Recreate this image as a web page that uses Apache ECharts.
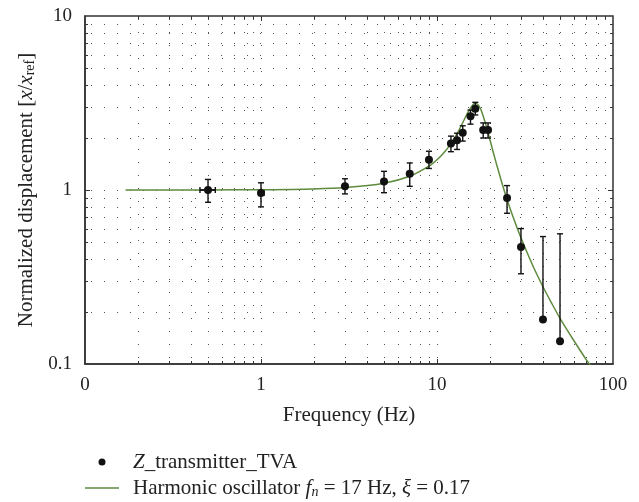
<!DOCTYPE html>
<html>
<head>
<meta charset="utf-8">
<script src="https://cdn.jsdelivr.net/npm/echarts@6/dist/echarts.min.js"></script>
<style>html,body{margin:0;padding:0;background:#fff;}#c{width:639px;height:502px;}</style>
</head>
<body>
<div id="c"></div>
<script>
// measured points (Hz, normalized displacement)
const freq   = [0.5, 1, 3, 5, 7, 9, 12, 13, 14, 15.5, 16.5, 18.3, 19.5, 25, 30, 40, 50];
const values = [1.0, 0.96, 1.05, 1.12, 1.24, 1.49, 1.85, 1.93, 2.13, 2.65, 2.93, 2.21, 2.21, 0.90, 0.47, 0.18, 0.135];
const errHi  = [1.15, 1.10, 1.16, 1.28, 1.43, 1.67, 2.04, 2.12, 2.34, 2.88, 3.19, 2.43, 2.43, 1.06, 0.60, 0.54, 0.56];
const errLo  = [0.85, 0.80, 0.95, 0.965, 1.05, 1.33, 1.66, 1.71, 1.91, 2.39, 2.70, 1.99, 1.99, 0.735, 0.33, 0.18, 0.135];
const xErrLo = [0.45, 0.97, null, null, null, null, null, null, null, null, null, null, null, null, null, null, null];
const xErrHi = [0.55, 1.04, null, null, null, null, null, null, null, null, null, null, null, null, null, null, null];
// fitted harmonic oscillator curve
const curveX = [0.17, 0.5, 1, 2, 3, 5, 7, 9, 10, 11, 12, 13, 14, 15, 16, 16.5, 17, 17.5, 18, 19, 20, 21, 22, 23.5, 25, 27, 30, 35, 40, 45, 50, 60, 70, 80];
const curveY = [1.0, 1.001, 1.004, 1.014, 1.032, 1.094, 1.199, 1.37, 1.491, 1.647, 1.849, 2.109, 2.434, 2.80, 3.09, 3.14, 3.11, 2.98, 2.80, 2.35, 1.94, 1.61, 1.36, 1.08, 0.883, 0.704, 0.531, 0.368, 0.278, 0.222, 0.183, 0.136, 0.107, 0.089];
// grid lines
const gridX = [0.2,0.3,0.4,0.5,0.6,0.7,0.8,0.9,1,2,3,4,5,6,7,8,9,10,20,30,40,50,60,70,80,90];
const gridY = [0.2,0.3,0.4,0.5,0.6,0.7,0.8,0.9,1,2,3,4,5,6,7,8,9];
const majorX = [1, 10];
const majorY = [1];

const FONT = '"Liberation Serif", "DejaVu Serif", serif';
const INK = '#222';
const GREEN = '#5e8b3e';

const chart = echarts.init(document.getElementById('c'), null, {renderer: 'canvas'});

function gridRenderX(params, api) {
  const cs = params.coordSys;
  const v = api.value(0);
  const p = api.coord([v, 1]);
  const x = Math.round(p[0]) + 0.5;
  const tl = majorX.indexOf(v) >= 0 ? 5 : 3;
  const top = cs.y, bot = cs.y + cs.height;
  return {type: 'group', children: [
    {type: 'line', shape: {x1: x, y1: top + 3, x2: x, y2: bot}, style: {stroke: '#555', lineWidth: 1, lineDash: [1, 12]}},
    {type: 'line', shape: {x1: x, y1: bot, x2: x, y2: bot - tl}, style: {stroke: '#333', lineWidth: 1}},
    {type: 'line', shape: {x1: x, y1: top, x2: x, y2: top + tl}, style: {stroke: '#333', lineWidth: 1}}
  ]};
}
function gridRenderY(params, api) {
  const cs = params.coordSys;
  const v = api.value(1);
  const p = api.coord([1, v]);
  const y = Math.round(p[1]) + 0.5;
  const tl = majorY.indexOf(v) >= 0 ? 5 : 3;
  const l = cs.x, r = cs.x + cs.width;
  return {type: 'group', children: [
    {type: 'line', shape: {x1: l + 6, y1: y, x2: r, y2: y}, style: {stroke: '#555', lineWidth: 1, lineDash: [1, 12]}},
    {type: 'line', shape: {x1: l, y1: y, x2: l + tl, y2: y}, style: {stroke: '#333', lineWidth: 1}},
    {type: 'line', shape: {x1: r, y1: y, x2: r - tl, y2: y}, style: {stroke: '#333', lineWidth: 1}}
  ]};
}
function errRender(params, api) {
  const x = api.value(0), lo = api.value(1), hi = api.value(2), xl = api.value(3), xh = api.value(4), y = api.value(5);
  const a = api.coord([x, hi]);
  const b = api.coord([x, lo]);
  const cap = 3;
  const st = {stroke: '#111', lineWidth: 1.4};
  const ch = [
    {type: 'line', shape: {x1: a[0], y1: a[1], x2: b[0], y2: b[1]}, style: st},
    {type: 'line', shape: {x1: a[0] - cap, y1: a[1], x2: a[0] + cap, y2: a[1]}, style: st}
  ];
  if (lo < y) ch.push({type: 'line', shape: {x1: b[0] - cap, y1: b[1], x2: b[0] + cap, y2: b[1]}, style: st});
  if (xl && xh) {
    const c = api.coord([xl, y]), d = api.coord([xh, y]);
    const st2 = {stroke: '#111', lineWidth: 1.8};
    ch.push({type: 'line', shape: {x1: c[0], y1: c[1], x2: d[0], y2: d[1]}, style: st2});
    ch.push({type: 'line', shape: {x1: c[0], y1: c[1] - 3, x2: c[0], y2: c[1] + 3}, style: st});
    ch.push({type: 'line', shape: {x1: d[0], y1: d[1] - 3, x2: d[0], y2: d[1] + 3}, style: st});
  }
  return {type: 'group', children: ch};
}

const errData = freq.map((f, i) => [f, errLo[i], errHi[i], xErrLo[i] || 0, xErrHi[i] || 0, values[i]]);

function legendText(pad) {
  return {fontFamily: FONT, fontSize: 21, color: INK, lineHeight: 22, padding: [0, 0, 0, pad],
    rich: {
      i: {fontFamily: FONT, fontSize: 21, color: INK, fontStyle: 'italic'},
      sub: {fontFamily: FONT, fontSize: 14, color: INK, fontStyle: 'italic', padding: [9, 0, 0, 0]}
    }};
}

chart.setOption({
  animation: false,
  backgroundColor: '#fff',
  grid: {left: 85, right: 26, top: 16, bottom: 138, show: true, borderColor: '#333', borderWidth: 1.5, backgroundColor: 'transparent'},
  xAxis: {
    type: 'log', logBase: 10, min: 0.1, max: 100,
    name: 'Frequency (Hz)', nameLocation: 'middle', nameGap: 41,
    nameTextStyle: {fontFamily: FONT, fontSize: 21, color: INK},
    axisLine: {show: true, lineStyle: {color: '#333', width: 1.5}},
    axisTick: {show: false},
    splitLine: {show: false},
    axisLabel: {fontFamily: FONT, fontSize: 19, color: INK, margin: 12,
      formatter: v => (v < 1 ? '0' : String(Math.round(v)))}
  },
  yAxis: {
    type: 'log', logBase: 10, min: 0.1, max: 10,
    name: '{t|Normalized displacement [}{i|x}{t|/}{i|x}{s|ref}{t|]}',
    nameLocation: 'middle', nameGap: 48, nameRotate: 90,
    nameTextStyle: {fontFamily: FONT, fontSize: 21, color: INK,
      rich: {
        t: {fontFamily: FONT, fontSize: 21, color: INK},
        i: {fontFamily: FONT, fontSize: 21, color: INK, fontStyle: 'italic'},
        s: {fontFamily: FONT, fontSize: 14, color: INK, padding: [8, 0, 0, 0]}
      }},
    axisLine: {show: true, lineStyle: {color: '#333', width: 1.5}},
    axisTick: {show: false},
    splitLine: {show: false},
    axisLabel: {fontFamily: FONT, fontSize: 19, color: INK, margin: 13,
      formatter: v => (v < 1 ? String(v) : String(Math.round(v)))}
  },
  legend: [
    {
      orient: 'vertical', left: 98.5, top: 451, padding: 0,
      itemWidth: 34, itemHeight: 7,
      data: [{name: 'Z_transmitter_TVA', icon: 'circle'}],
      formatter: () => '{i|Z}_transmitter_TVA',
      textStyle: legendText(9)
    },
    {
      orient: 'vertical', left: 85, top: 477, padding: 0,
      itemWidth: 34, itemHeight: 1.5,
      data: [{name: 'Harmonic oscillator', icon: 'rect'}],
      formatter: () => 'Harmonic oscillator {i|f}{sub|n} = 17 Hz, {i|ξ} = 0.17',
      textStyle: legendText(9)
    }
  ],
  series: [
    {type: 'custom', name: 'gx', silent: true, z: 1, data: gridX.map(v => [v, 1]), renderItem: gridRenderX},
    {type: 'custom', name: 'gy', silent: true, z: 1, data: gridY.map(v => [1, v]), renderItem: gridRenderY},
    {type: 'line', name: 'Harmonic oscillator', data: curveX.map((x, i) => [x, curveY[i]]),
      showSymbol: false, symbol: 'none', smooth: 0.3, clip: true, z: 3,
      lineStyle: {color: GREEN, width: 1.5}, itemStyle: {color: GREEN}},
    {type: 'custom', name: 'err', silent: true, z: 4, data: errData, renderItem: errRender},
    {type: 'scatter', name: 'Z_transmitter_TVA', data: freq.map((f, i) => [f, values[i]]),
      symbol: 'circle', symbolSize: 8, z: 5, itemStyle: {color: '#111', opacity: 1}}
  ]
});
</script>
</body>
</html>
